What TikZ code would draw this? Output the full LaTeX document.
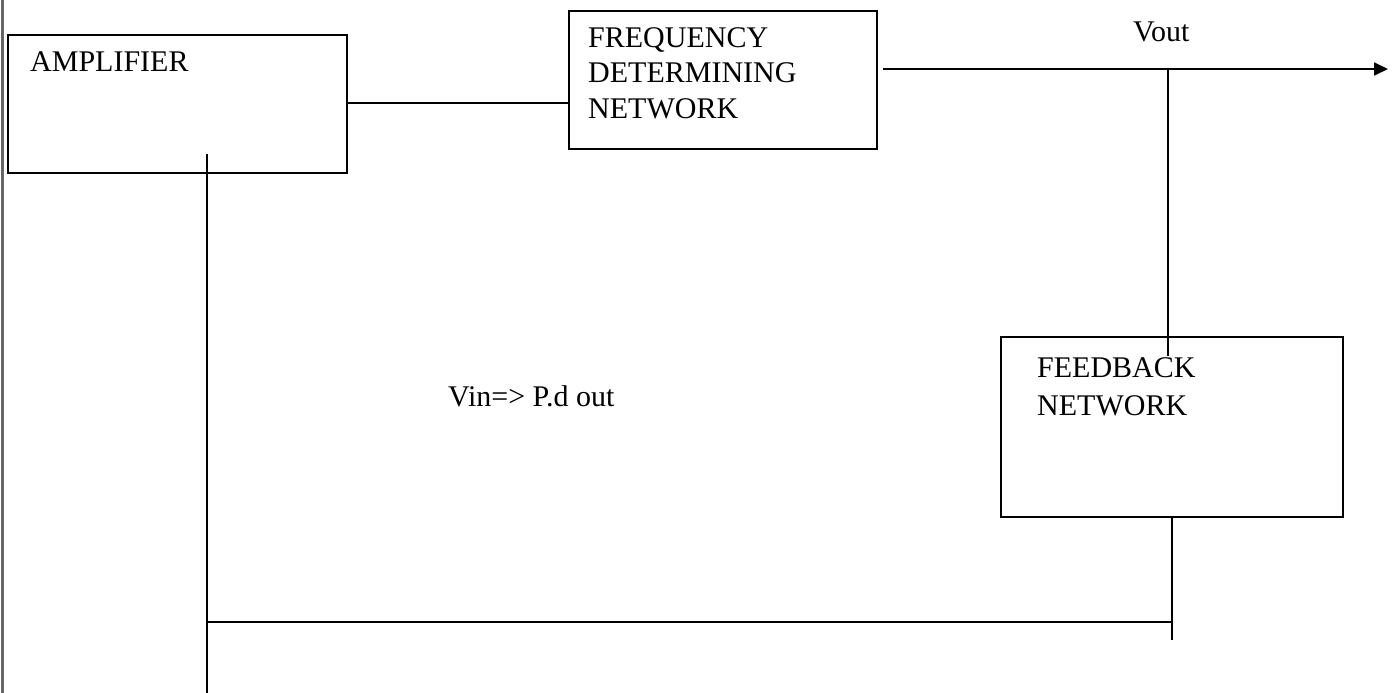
\documentclass[tikz,border=0pt]{standalone}
\usepackage{fontspec}
\setmainfont{Liberation Serif}
\usetikzlibrary{arrows.meta}
\begin{document}
\begin{tikzpicture}[x=1pt,y=-1pt,
  blk/.style={draw=black,line width=1.8pt,rectangle,inner sep=0pt,anchor=north west},
  lbl/.style={font=\fontsize{30}{34}\selectfont,inner sep=0pt,anchor=base west},
  wire/.style={line width=1.8pt,black}]
\fill[white] (0,0) rectangle (1395,693);
\useasboundingbox (0,0) rectangle (1395,693);
% scan edge
\draw[line width=3pt,black!60] (2,0) -- (2,693);
% boxes
\node[blk,minimum width=339pt,minimum height=138pt] (amp) at (7,34) {};
\node[blk,minimum width=308pt,minimum height=138pt] (freq) at (568,10) {};
\node[blk,minimum width=342pt,minimum height=180pt] (fb) at (1000,336) {};
% texts
\node[lbl] (tamp) at (30,71) {AMPLIFIER};
\node[lbl] (tf1) at (588,48) {FREQUENCY};
\node[lbl] (tf2) at (588,83) {DETERMINING};
\node[lbl] (tf3) at (588,118) {NETWORK};
\node[lbl] (tfb1) at (1037,377) {FEEDBACK};
\node[lbl] (tfb2) at (1037,415) {NETWORK};
\node[lbl] (vout) at (1133,42) {Vout};
\node[lbl] (vin) at (448,406) {Vin=> P.d out};
% coordinates
\coordinate (ampin) at (207,154);
\coordinate (ampbot) at (207,693);
\coordinate (outstart) at (883,69);
\coordinate (outend) at (1388,69);
\coordinate (tap) at (1168,69);
\coordinate (fbin) at (1168,356);
\coordinate (fbout) at (1172,516);
\coordinate (fbend) at (1172,640);
\coordinate (fbjoin) at (1172,622);
\coordinate (ampjoin) at (207,622);
% connectors
\draw[wire] (amp.east |- 0,103) -- (freq.west |- 0,103);
\draw[wire,-{Triangle[length=14pt,width=13pt]}] (outstart) -- (outend);
\draw[wire] (tap) -- (fbin);
\draw[wire] (fbout) -- (fbend);
\draw[wire] (ampjoin) -- (fbjoin);
\draw[wire] (ampin) -- (ampbot);
\end{tikzpicture}
\end{document}
